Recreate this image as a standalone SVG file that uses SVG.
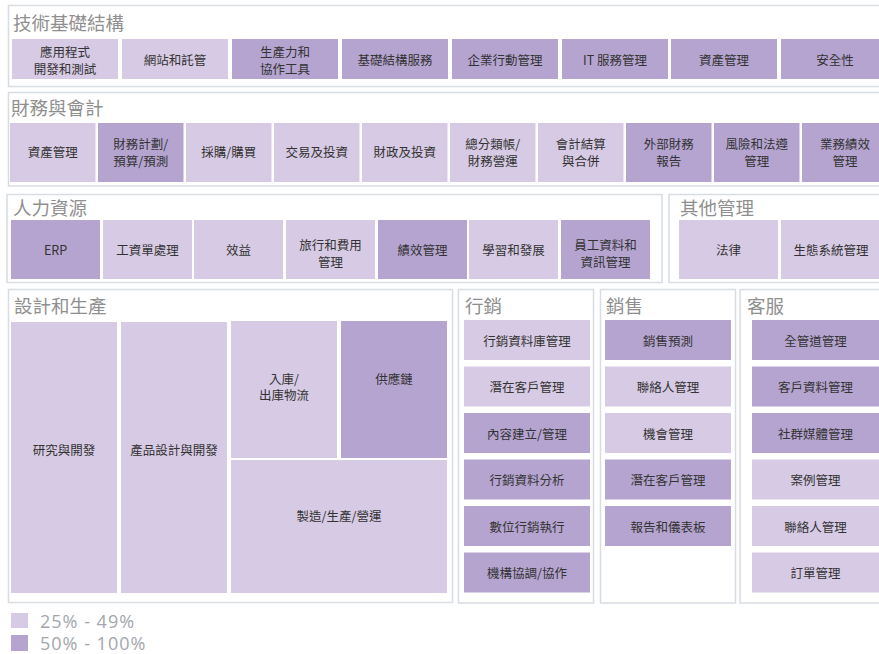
<svg xmlns="http://www.w3.org/2000/svg" width="879" height="654" viewBox="0 0 879 654">
<style>
.bg{fill:#ffffff}
.sec{fill:#ffffff;stroke:#d8dce3;stroke-width:1.5}
.lt{fill:#d7cae4}
.dk{fill:#b5a4d0}
.t{font-family:"Noto Sans CJK TC","Noto Sans CJK SC",sans-serif;font-size:12.5px;fill:#333333;text-anchor:middle}
.h{font-family:"Noto Sans CJK TC","Noto Sans CJK SC",sans-serif;font-size:18.5px;fill:#8f8f8f}
.lg{font-family:"Open Sans","Liberation Sans",sans-serif;font-size:18px;fill:#a3a6ae;letter-spacing:1px}
</style>
<rect class="bg" x="0" y="0" width="879" height="654"/>

<g id="sec-tech">
<rect class="sec" x="8.5" y="5.5" width="880" height="81"/>
<text class="h" x="13" y="30">技術基礎結構</text>
</g>
<g id="n-t1"><rect class="lt" x="12" y="39" width="106" height="40"/><text class="t" x="65" y="57">應用程式</text><text class="t" x="65" y="73.5">開發和測試</text></g>
<g id="n-t2"><rect class="lt" x="122" y="39" width="106" height="40"/><text class="t" x="175" y="65">網站和託管</text></g>
<g id="n-t3"><rect class="dk" x="232" y="39" width="106" height="40"/><text class="t" x="285" y="57">生產力和</text><text class="t" x="285" y="73.5">協作工具</text></g>
<g id="n-t4"><rect class="dk" x="342" y="39" width="106" height="40"/><text class="t" x="395" y="65">基礎結構服務</text></g>
<g id="n-t5"><rect class="dk" x="452" y="39" width="106" height="40"/><text class="t" x="505" y="65">企業行動管理</text></g>
<g id="n-t6"><rect class="dk" x="562" y="39" width="106" height="40"/><text class="t" x="615" y="65">IT 服務管理</text></g>
<g id="n-t7"><rect class="dk" x="671" y="39" width="106" height="40"/><text class="t" x="724" y="65">資產管理</text></g>
<g id="n-t8"><rect class="dk" x="781" y="39" width="108" height="40"/><text class="t" x="835" y="65">安全性</text></g>

<g id="sec-fin">
<rect class="sec" x="8.5" y="92.5" width="880" height="93.5"/>
<text class="h" x="11" y="115">財務與會計</text>
</g>
<g id="n-f1"><rect class="lt" x="10" y="123" width="85.5" height="59"/><text class="t" x="52.75" y="157">資產管理</text></g>
<g id="n-f2"><rect class="dk" x="98" y="123" width="85.5" height="59"/><text class="t" x="140.75" y="148.5">財務計劃/</text><text class="t" x="140.75" y="165.5">預算/預測</text></g>
<g id="n-f3"><rect class="lt" x="186" y="123" width="85.5" height="59"/><text class="t" x="228.75" y="157">採購/購買</text></g>
<g id="n-f4"><rect class="lt" x="274" y="123" width="85.5" height="59"/><text class="t" x="316.75" y="157">交易及投資</text></g>
<g id="n-f5"><rect class="lt" x="362" y="123" width="85.5" height="59"/><text class="t" x="404.75" y="157">財政及投資</text></g>
<g id="n-f6"><rect class="lt" x="450" y="123" width="85.5" height="59"/><text class="t" x="492.75" y="148.5">總分類帳/</text><text class="t" x="492.75" y="165.5">財務營運</text></g>
<g id="n-f7"><rect class="lt" x="538" y="123" width="85.5" height="59"/><text class="t" x="580.75" y="148.5">會計結算</text><text class="t" x="580.75" y="165.5">與合併</text></g>
<g id="n-f8"><rect class="dk" x="626" y="123" width="85.5" height="59"/><text class="t" x="668.75" y="148.5">外部財務</text><text class="t" x="668.75" y="165.5">報告</text></g>
<g id="n-f9"><rect class="dk" x="714" y="123" width="85.5" height="59"/><text class="t" x="756.75" y="148.5">風險和法遵</text><text class="t" x="756.75" y="165.5">管理</text></g>
<g id="n-f10"><rect class="dk" x="802" y="123" width="86" height="59"/><text class="t" x="845" y="148.5">業務績效</text><text class="t" x="845" y="165.5">管理</text></g>

<g id="sec-hr">
<rect class="sec" x="7" y="194.5" width="655" height="88"/>
<text class="h" x="13" y="215">人力資源</text>
</g>
<g id="n-h1"><rect class="dk" x="11" y="220" width="89" height="59"/><text class="t" x="55.5" y="255">ERP</text></g>
<g id="n-h2"><rect class="lt" x="103" y="220" width="89" height="59"/><text class="t" x="147.5" y="255">工資單處理</text></g>
<g id="n-h3"><rect class="lt" x="194" y="220" width="89" height="59"/><text class="t" x="238.5" y="255">效益</text></g>
<g id="n-h4"><rect class="lt" x="286" y="220" width="89" height="59"/><text class="t" x="330.5" y="250">旅行和費用</text><text class="t" x="330.5" y="267">管理</text></g>
<g id="n-h5"><rect class="dk" x="378" y="220" width="89" height="59"/><text class="t" x="422.5" y="255">績效管理</text></g>
<g id="n-h6"><rect class="lt" x="469" y="220" width="89" height="59"/><text class="t" x="513.5" y="255">學習和發展</text></g>
<g id="n-h7"><rect class="dk" x="561" y="220" width="89" height="59"/><text class="t" x="605.5" y="250">員工資料和</text><text class="t" x="605.5" y="267">資訊管理</text></g>

<g id="sec-other">
<rect class="sec" x="669" y="194.5" width="220" height="88"/>
<text class="h" x="680" y="215">其他管理</text>
</g>
<g id="n-o1"><rect class="lt" x="679" y="220" width="99" height="59"/><text class="t" x="728.5" y="255">法律</text></g>
<g id="n-o2"><rect class="lt" x="781" y="220" width="100" height="59"/><text class="t" x="831" y="255">生態系統管理</text></g>

<g id="sec-design">
<rect class="sec" x="8.5" y="289.5" width="444" height="313"/>
<text class="h" x="14" y="313">設計和生產</text>
</g>
<g id="n-d1"><rect class="lt" x="11" y="322" width="106" height="271"/><text class="t" x="64" y="454.5">研究與開發</text></g>
<g id="n-d2"><rect class="lt" x="121" y="322" width="106" height="271"/><text class="t" x="174" y="454.5">產品設計與開發</text></g>
<g id="n-d3"><rect class="lt" x="231" y="321" width="106" height="137"/><text class="t" x="284" y="384">入庫/</text><text class="t" x="284" y="399.5">出庫物流</text></g>
<g id="n-d4"><rect class="dk" x="341" y="321" width="106" height="137"/><text class="t" x="394" y="384">供應鏈</text></g>
<g id="n-d5"><rect class="lt" x="231" y="460" width="216" height="133"/><text class="t" x="339" y="521">製造/生產/營運</text></g>

<g id="sec-mkt">
<rect class="sec" x="458.5" y="289.5" width="135" height="313.5"/>
<text class="h" x="465" y="313">行銷</text>
</g>
<g id="n-m1"><rect class="lt" x="464" y="320" width="126" height="40"/><text class="t" x="527" y="345.5">行銷資料庫管理</text></g>
<g id="n-m2"><rect class="lt" x="464" y="366.5" width="126" height="40"/><text class="t" x="527" y="392">潛在客戶管理</text></g>
<g id="n-m3"><rect class="dk" x="464" y="413" width="126" height="40"/><text class="t" x="527" y="438.5">內容建立/管理</text></g>
<g id="n-m4"><rect class="dk" x="464" y="459.5" width="126" height="40"/><text class="t" x="527" y="485">行銷資料分析</text></g>
<g id="n-m5"><rect class="dk" x="464" y="506" width="126" height="40"/><text class="t" x="527" y="531.5">數位行銷執行</text></g>
<g id="n-m6"><rect class="dk" x="464" y="552.5" width="126" height="40"/><text class="t" x="527" y="578">機構協調/協作</text></g>

<g id="sec-sales">
<rect class="sec" x="600.5" y="289.5" width="135" height="313.5"/>
<text class="h" x="606" y="313">銷售</text>
</g>
<g id="n-s1"><rect class="dk" x="605" y="320" width="126" height="40"/><text class="t" x="668" y="345.5">銷售預測</text></g>
<g id="n-s2"><rect class="lt" x="605" y="366.5" width="126" height="40"/><text class="t" x="668" y="392">聯絡人管理</text></g>
<g id="n-s3"><rect class="lt" x="605" y="413" width="126" height="40"/><text class="t" x="668" y="438.5">機會管理</text></g>
<g id="n-s4"><rect class="dk" x="605" y="459.5" width="126" height="40"/><text class="t" x="668" y="485">潛在客戶管理</text></g>
<g id="n-s5"><rect class="dk" x="605" y="506" width="126" height="40"/><text class="t" x="668" y="531.5">報告和儀表板</text></g>

<g id="sec-cs">
<rect class="sec" x="740" y="289.5" width="150" height="313.5"/>
<text class="h" x="747" y="313">客服</text>
</g>
<g id="n-c1"><rect class="dk" x="752" y="320" width="127" height="40"/><text class="t" x="815.5" y="345.5">全管道管理</text></g>
<g id="n-c2"><rect class="dk" x="752" y="366.5" width="127" height="40"/><text class="t" x="815.5" y="392">客戶資料管理</text></g>
<g id="n-c3"><rect class="dk" x="752" y="413" width="127" height="40"/><text class="t" x="815.5" y="438.5">社群媒體管理</text></g>
<g id="n-c4"><rect class="lt" x="752" y="459.5" width="127" height="40"/><text class="t" x="815.5" y="485">案例管理</text></g>
<g id="n-c5"><rect class="lt" x="752" y="506" width="127" height="40"/><text class="t" x="815.5" y="531.5">聯絡人管理</text></g>
<g id="n-c6"><rect class="lt" x="752" y="552.5" width="127" height="40"/><text class="t" x="815.5" y="578">訂單管理</text></g>

<g id="connectors"/>

<g id="legend">
<rect class="lt" x="11" y="613" width="17" height="15"/>
<text class="lg" x="40" y="628">25% - 49%</text>
<rect class="dk" x="11" y="635" width="17" height="16"/>
<text class="lg" x="40" y="650">50% - 100%</text>
</g>
</svg>
